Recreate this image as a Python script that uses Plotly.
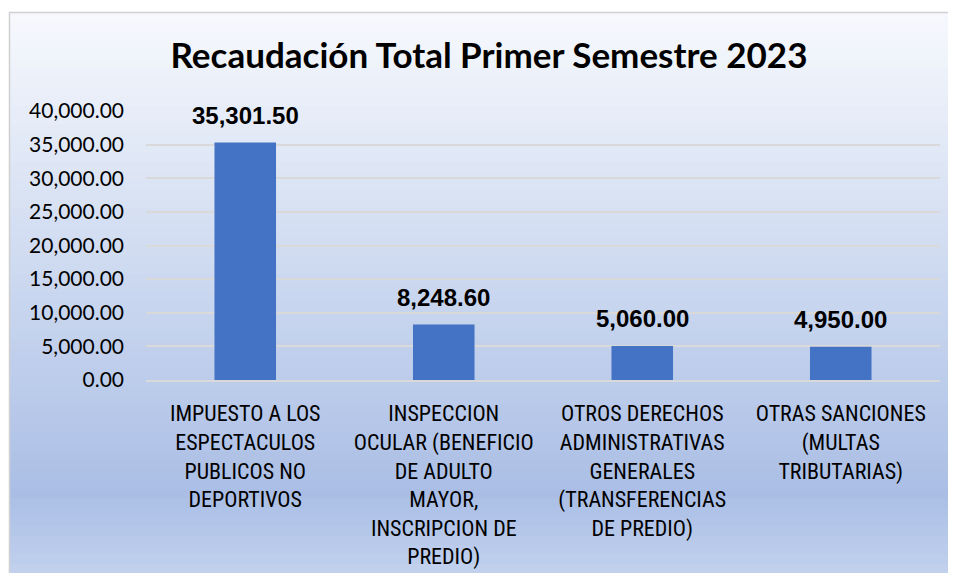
import plotly.graph_objects as go

# Data
categories = [
    "IMPUESTO A LOS<br>ESPECTACULOS<br>PUBLICOS NO<br>DEPORTIVOS",
    "INSPECCION<br>OCULAR (BENEFICIO<br>DE ADULTO<br>MAYOR,<br>INSCRIPCION DE<br>PREDIO)",
    "OTROS DERECHOS<br>ADMINISTRATIVAS<br>GENERALES<br>(TRANSFERENCIAS<br>DE PREDIO)",
    "OTRAS SANCIONES<br>(MULTAS<br>TRIBUTARIAS)",
]
values = [35301.50, 8248.60, 5060.00, 4950.00]
title_text = "Recaudación Total Primer Semestre 2023"

# page has an 8px body margin; keep the figure small enough to avoid scrollbars
W, H = 940, 565
L, R, T, B = 138, 8, 103, 193
pw, ph = W - L - R, H - T - B


def px_x(px):
    return (px - L) / pw


def px_y(py):
    return (H - B - py) / ph


def mix(c1, c2, t):
    return "rgb(%d,%d,%d)" % tuple(round(a + (b - a) * t) for a, b in zip(c1, c2))


# background gradient of the chart area
stops = [(4, (247, 249, 253)), (487, (170, 190, 229)), (573, (196, 211, 238))]
shapes = []
n = 60
y0, y1 = 4, H
for i in range(n):
    top = y0 + (y1 - y0) * i / n
    bot = y0 + (y1 - y0) * (i + 1) / n + 1
    mid = (top + bot) / 2
    col = mix(stops[-1][1], stops[-1][1], 0)
    for (sa, ca), (sb, cb) in zip(stops[:-1], stops[1:]):
        if sa <= mid <= sb:
            col = mix(ca, cb, (mid - sa) / (sb - sa))
            break
    shapes.append(dict(type="rect", xref="paper", yref="paper", layer="below",
                       x0=px_x(1), x1=px_x(W + 2), y0=px_y(bot), y1=px_y(top),
                       fillcolor=col, line=dict(width=0)))
shapes.append(dict(type="rect", xref="paper", yref="paper", layer="below",
                   x0=px_x(1.5), x1=px_x(W + 5), y0=px_y(H + 5), y1=px_y(4.5),
                   fillcolor="rgba(0,0,0,0)", line=dict(color="#D0D0D0", width=1.5)))

fig = go.Figure()
fig.add_trace(go.Bar(x=categories, y=values, marker=dict(color="#4472C4", line=dict(width=0)),
                     hoverinfo="x+y"))

annotations = [
    dict(x=c, y=v, xref="x", yref="y", text=f"{v:,.2f}", showarrow=False,
         yanchor="bottom", yshift=12,
         font=dict(family="Liberation Sans, Arial", size=24, color="#000000", weight="bold"))
    for c, v in zip(categories, values)
]

fig.update_layout(
    width=W, height=H,
    margin=dict(l=L, r=R, t=T, b=B),
    paper_bgcolor="white",
    plot_bgcolor="rgba(0,0,0,0)",
    title=dict(text="<b>%s</b>" % title_text, x=481 / W, xanchor="center",
               y=1 - 47.5 / H, yanchor="middle",
               font=dict(family="Lato", size=35, color="#000000")),
    bargap=0.69,
    showlegend=False,
    shapes=shapes,
    annotations=annotations,
)
fig.update_yaxes(range=[0, 40000], dtick=5000, tickformat=",.2f", automargin=False,
                 showgrid=True, gridcolor="#D9D9D9", gridwidth=2,
                 zeroline=False, showline=False, ticklabelstandoff=21,
                 tickfont=dict(family="Lato", size=21, color="#000000"))
fig.update_xaxes(showline=True, linecolor="#D9D9D9", linewidth=2, ticks="", automargin=False,
                 ticklabelstandoff=13,
                 tickfont=dict(family="Roboto Condensed, Lato", size=22, color="#000000"))

fig.write_html("out.html")
